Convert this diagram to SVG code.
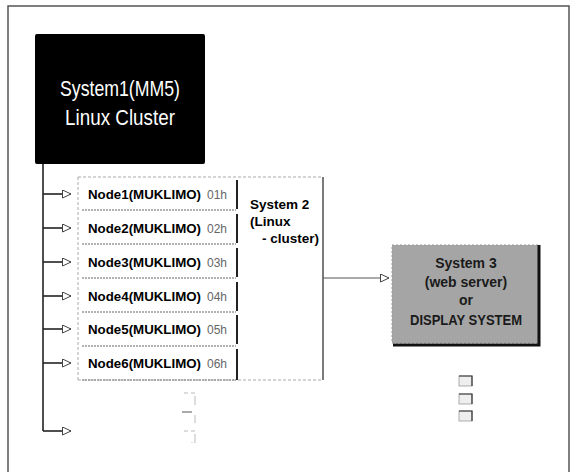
<svg xmlns="http://www.w3.org/2000/svg" width="574" height="472" viewBox="0 0 574 472">
<defs>
<marker id="open" markerWidth="11" markerHeight="10" refX="9" refY="4.5" orient="auto" markerUnits="userSpaceOnUse">
<path d="M0.5,0.5 L9,4.5 L0.5,8.5 z" fill="#fff" stroke="#444" stroke-width="1"/>
</marker>
<style>
.node-t{font-family:"Liberation Sans",Arial,sans-serif;font-weight:bold;font-size:13.3px;fill:#000}
.s2t{font-family:"Liberation Sans",Arial,sans-serif;font-weight:bold;font-size:13.5px;fill:#000}
.hr{font-family:"Liberation Sans",Arial,sans-serif;font-size:12px;fill:#666}
.sep{stroke:#999;stroke-width:1.5;stroke-dasharray:2 1}
.bar{stroke:#222;stroke-width:2}
.conn{stroke:#222;stroke-width:1.6;fill:none}
.s3t{font-family:"Liberation Sans",Arial,sans-serif;font-weight:bold;font-size:14px;fill:#1a1a1a;text-anchor:middle}
.faint{stroke:#bbb;stroke-width:1;fill:none}
.s1t{font-family:"Liberation Sans",Arial,sans-serif;font-size:22px;fill:#fff;text-anchor:middle}
</style>
</defs>
<rect width="574" height="472" fill="#fff"/>
<rect x="8" y="6" width="561" height="480" fill="none" stroke="#555" stroke-width="1.5"/>

<g id="system1">
<rect x="35" y="34" width="170" height="130" rx="2" fill="#000"/>
<text x="120" y="96" class="s1t" textLength="120" lengthAdjust="spacingAndGlyphs">System1(MM5)</text>
<text x="120" y="125" class="s1t" textLength="110" lengthAdjust="spacingAndGlyphs">Linux Cluster</text>
</g>

<g id="system2">
<path d="M78,177 H323 M78,380 H323 M78,177 V380" stroke="#aaa" stroke-width="1" stroke-dasharray="3 2" fill="none"/>
<line x1="323" y1="177" x2="323" y2="380" stroke="#333" stroke-width="1.3"/>
<text x="250" y="209" class="s2t">System 2</text>
<text x="250" y="226" class="s2t">(Linux</text>
<text x="319" y="243" class="s2t" text-anchor="end">- cluster)</text>
</g>

<g id="node1">
<text x="88" y="199" class="node-t">Node1(MUKLIMO)</text>
<text x="207" y="199" class="hr">01h</text>
<line x1="237" y1="180" x2="237" y2="209" class="bar"/>
<line x1="82" y1="210" x2="236" y2="210" class="sep"/>
</g>
<g id="node2">
<text x="88" y="233" class="node-t">Node2(MUKLIMO)</text>
<text x="207" y="233" class="hr">02h</text>
<line x1="237" y1="214" x2="237" y2="243" class="bar"/>
<line x1="82" y1="244" x2="236" y2="244" class="sep"/>
</g>
<g id="node3">
<text x="88" y="267" class="node-t">Node3(MUKLIMO)</text>
<text x="207" y="267" class="hr">03h</text>
<line x1="237" y1="248" x2="237" y2="277" class="bar"/>
<line x1="82" y1="278" x2="236" y2="278" class="sep"/>
</g>
<g id="node4">
<text x="88" y="301" class="node-t">Node4(MUKLIMO)</text>
<text x="207" y="301" class="hr">04h</text>
<line x1="237" y1="282" x2="237" y2="311" class="bar"/>
<line x1="82" y1="312" x2="236" y2="312" class="sep"/>
</g>
<g id="node5">
<text x="88" y="334" class="node-t">Node5(MUKLIMO)</text>
<text x="207" y="334" class="hr">05h</text>
<line x1="237" y1="315" x2="237" y2="344" class="bar"/>
<line x1="82" y1="346" x2="236" y2="346" class="sep"/>
</g>
<g id="node6">
<text x="88" y="368" class="node-t">Node6(MUKLIMO)</text>
<text x="207" y="368" class="hr">06h</text>
<line x1="237" y1="349" x2="237" y2="380" class="bar"/>
<line x1="82" y1="380" x2="236" y2="380" class="sep"/>
</g>

<g id="system3">
<rect x="392" y="245" width="146" height="98" fill="#a5a5a5" stroke="#999" stroke-width="1" stroke-dasharray="2 2"/>
<path d="M539,245 V345 H393" stroke="#111" stroke-width="3" fill="none"/>
<text x="466" y="268" class="s3t">System 3</text>
<text x="466" y="287" class="s3t">(web server)</text>
<text x="466" y="305" class="s3t">or</text>
<text x="466" y="325" class="s3t" textLength="112" lengthAdjust="spacingAndGlyphs">DISPLAY SYSTEM</text>
</g>

<g id="small-boxes">
<rect x="459" y="376" width="13" height="10" fill="#eee" stroke="#999" stroke-width="0.8"/>
<path d="M459,376 H472 V386" stroke="#333" stroke-width="1.2" fill="none"/>
<rect x="459" y="394" width="13" height="10" fill="#eee" stroke="#999" stroke-width="0.8"/>
<path d="M459,394 H472 V404" stroke="#333" stroke-width="1.2" fill="none"/>
<rect x="459" y="411" width="13" height="10" fill="#eee" stroke="#999" stroke-width="0.8"/>
<path d="M459,411 H472 V421" stroke="#333" stroke-width="1.2" fill="none"/>
</g>

<g id="faint-marks">
<path d="M184,393 H188 M191,393 H195 M195,396 V405" class="faint"/>
<path d="M182,412 H192" stroke="#555" stroke-width="1"/>
<path d="M195,415 V423" class="faint"/>
<path d="M184,431 H188 M191,431 H195 M195,434 V443 M192,442 V443" class="faint"/>
</g>

<g id="connectors">
<path d="M43,164 V431" class="conn"/>
<line x1="43" y1="194" x2="71" y2="194" class="conn" marker-end="url(#open)"/>
<line x1="43" y1="228" x2="71" y2="228" class="conn" marker-end="url(#open)"/>
<line x1="43" y1="262" x2="71" y2="262" class="conn" marker-end="url(#open)"/>
<line x1="43" y1="296" x2="71" y2="296" class="conn" marker-end="url(#open)"/>
<line x1="43" y1="329" x2="71" y2="329" class="conn" marker-end="url(#open)"/>
<line x1="43" y1="363" x2="71" y2="363" class="conn" marker-end="url(#open)"/>
<line x1="43" y1="431" x2="71" y2="431" class="conn" marker-end="url(#open)"/>
<line x1="323" y1="278" x2="389" y2="278" stroke="#555" stroke-width="1" marker-end="url(#open)"/>
</g>
</svg>
